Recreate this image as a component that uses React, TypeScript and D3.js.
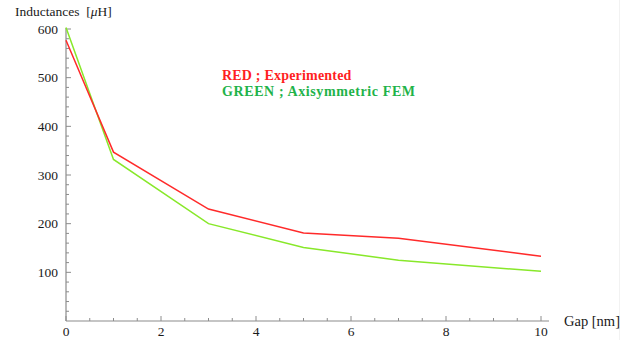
import * as d3 from 'd3';

// gap in nm
const gaps = [0, 1, 3, 5, 7, 10];
const experimented = [577, 347, 230, 181, 170, 133];
const femValues = [603, 332, 200, 151, 125, 102];
const xMajorTicks = [0, 2, 4, 6, 8, 10];
const yMajorTicks = [100, 200, 300, 400, 500, 600];

export default function App() {
  const width = 630;
  const height = 340;

  const x = d3.scaleLinear().domain([0, 10]).range([66, 541]);
  const y = d3.scaleLinear().domain([0, 600]).range([321, 29]);

  const line = d3
    .line<number>()
    .x((_, i) => x(gaps[i]))
    .y((d) => y(d));

  const xMinor = d3.range(0, 10.01, 0.5).filter((v) => !xMajorTicks.includes(v));
  const yMinor = d3.range(20, 601, 20).filter((v) => !yMajorTicks.includes(v));

  const axisColor = '#8c8c8c';
  const font = '"Liberation Serif", "DejaVu Serif", serif';

  return (
    <svg
      width={width}
      height={height}
      style={{ position: 'absolute', left: 0, top: 0, background: '#fff' }}
      fontFamily={font}
    >
      {/* faint frame edge on the right */}
      <line x1={619.5} x2={619.5} y1={0} y2={height} stroke="#f2f2f2" />

      {/* axes */}
      <line x1={x(0)} x2={549} y1={y(0)} y2={y(0)} stroke={axisColor} strokeWidth={1.2} />
      <line x1={x(0)} x2={x(0)} y1={y(0)} y2={y(600) - 1} stroke={axisColor} strokeWidth={1.2} />

      {xMajorTicks.map((t) => (
        <g key={'xt' + t}>
          <line x1={x(t)} x2={x(t)} y1={y(0)} y2={y(0) - 5} stroke={axisColor} />
          <text x={x(t)} y={336} textAnchor="middle" fontSize={13.5} fill="#1a1a1a">
            {t}
          </text>
        </g>
      ))}
      {xMinor.map((t) => (
        <line key={'xm' + t} x1={x(t)} x2={x(t)} y1={y(0)} y2={y(0) - 3} stroke={axisColor} />
      ))}

      {yMajorTicks.map((t) => (
        <g key={'yt' + t}>
          <line x1={x(0)} x2={x(0) + 5} y1={y(t)} y2={y(t)} stroke={axisColor} />
          <text x={58} y={y(t) + 4.5} textAnchor="end" fontSize={13.5} fill="#1a1a1a">
            {t}
          </text>
        </g>
      ))}
      {yMinor.map((t) => (
        <line key={'ym' + t} x1={x(0)} x2={x(0) + 3} y1={y(t)} y2={y(t)} stroke={axisColor} />
      ))}

      {/* axis titles */}
      <text x={15} y={16} fontSize={13.5} fill="#1a1a1a" style={{ whiteSpace: 'pre' }}>
        {'Inductances  ['}
        <tspan fontStyle="italic">μ</tspan>H]
      </text>
      <text x={564} y={326} fontSize={14.5} fill="#1a1a1a">
        Gap [nm]
      </text>

      {/* series */}
      <path d={line(femValues) ?? ''} fill="none" stroke="#88e82a" strokeWidth={1.5} />
      <path d={line(experimented) ?? ''} fill="none" stroke="#ff2a2a" strokeWidth={1.5} />

      {/* legend */}
      <text x={222} y={80} fontSize={14} fontWeight="bold" fill="#ff1f1f" letterSpacing={0.2}>
        RED ; Experimented
      </text>
      <text x={222} y={96} fontSize={14} fontWeight="bold" fill="#1fb34a" letterSpacing={0.6}>
        GREEN ; Axisymmetric FEM
      </text>
    </svg>
  );
}
